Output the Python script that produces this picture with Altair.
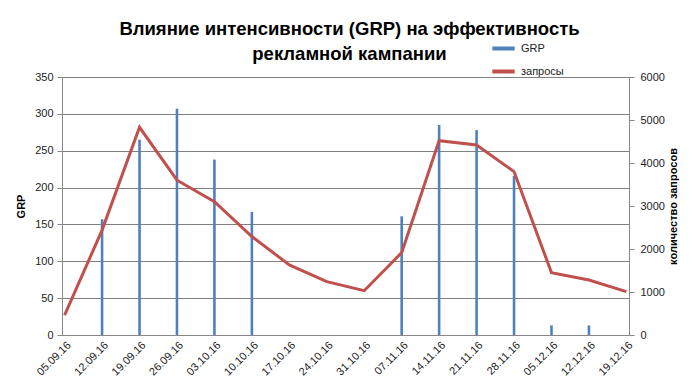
import altair as alt
import pandas as pd

dates = ["05.09.16", "12.09.16", "19.09.16", "26.09.16", "03.10.16", "10.10.16",
         "17.10.16", "24.10.16", "31.10.16", "07.11.16", "14.11.16", "21.11.16",
         "28.11.16", "05.12.16", "12.12.16", "19.12.16"]
grp = [None, 157, 265, 307, 238, 167, None, None, None, 161, 285, 278, 216, 13, 13, None]
requests = [460, 2440, 4830, 3600, 3100, 2290, 1630, 1240, 1030, 1915, 4520, 4420,
            3800, 1450, 1280, 1010]

df = pd.DataFrame({"date": dates, "GRP": grp, "req": requests})
df["s_grp"] = "GRP"
df["s_req"] = "запросы"

FONT = "Liberation Sans"
color_scale = alt.Scale(domain=["GRP", "запросы"], range=["#4F81BD", "#C0504D"])
x_enc = alt.X("date:N", sort=dates, title=None,
              scale=alt.Scale(type="point", padding=0.07),
              axis=alt.Axis(labelAngle=-45, ticks=False, labelFontSize=11,
                            labelColor="#222", domainColor="#888", labelPadding=4,
                            grid=False))

bars = alt.Chart(df).transform_filter("datum.GRP != null").mark_bar(size=2.6).encode(
    x=x_enc,
    y=alt.Y("GRP:Q", title="GRP",
            scale=alt.Scale(domain=[0, 350]),
            axis=alt.Axis(values=list(range(0, 351, 50)), grid=True, gridColor="#808080",
                          domainColor="#888", tickColor="#888", tickSize=5,
                          labelFontSize=11, labelColor="#222", titleFontSize=11,
                          titleFontWeight="bold", titlePadding=8, labelPadding=4)),
    color=alt.Color("s_grp:N", scale=color_scale, title=None),
)

line = alt.Chart(df).mark_line(strokeWidth=3).encode(
    x=x_enc,
    y=alt.Y("req:Q", title="количество  запросов",
            scale=alt.Scale(domain=[0, 6000]),
            axis=alt.Axis(orient="right", values=list(range(0, 6001, 1000)), grid=False,
                          format="d",
                          domainColor="#888", tickColor="#888", tickSize=5,
                          labelFontSize=11, labelColor="#222", titleFontSize=11,
                          titleFontWeight="bold", titleAngle=-90, titlePadding=14,
                          labelPadding=6)),
    color=alt.Color("s_req:N", scale=color_scale, title=None),
)

chart = alt.layer(bars, line).resolve_scale(y="independent").properties(
    width=567, height=258,
    autosize=alt.AutoSizeParams(type="none"),
    padding={"left": 54, "top": 69, "right": 63, "bottom": 49},
    title=alt.TitleParams(
        text=["Влияние интенсивности (GRP) на эффективность", "рекламной кампании"],
        font=FONT, fontSize=18.5, fontWeight="bold", color="#000",
        anchor="middle", lineHeight=25, offset=14, dx=4, dy=42),
).configure_view(stroke=None).configure_axis(
    labelFont=FONT, titleFont=FONT
).configure_legend(
    orient="none", legendX=428, legendY=-42, symbolType="stroke",
    symbolStrokeWidth=4, symbolSize=500, labelFont=FONT, labelFontSize=11,
    rowPadding=1, labelColor="#222"
)

chart.save("out.html", embed_options={"renderer": "svg", "actions": False})
